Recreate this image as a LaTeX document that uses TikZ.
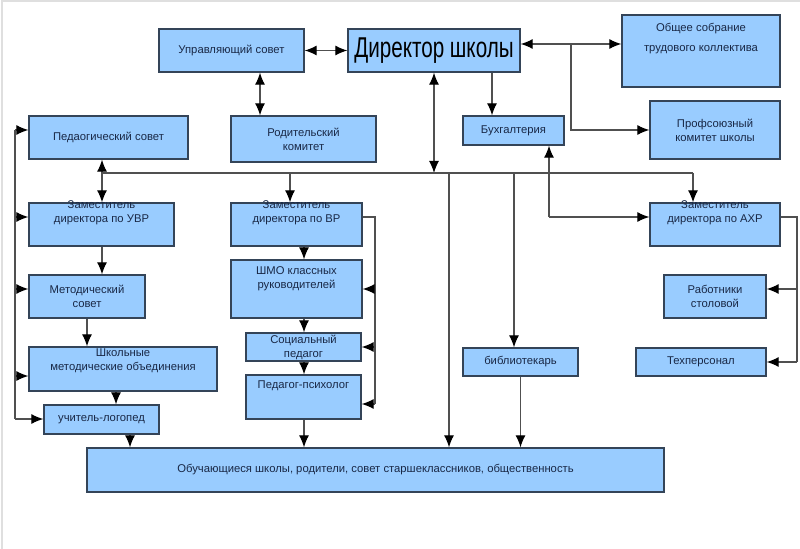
\documentclass[tikz,border=0pt]{standalone}
\usepackage{fontspec}
\setmainfont{Liberation Sans}
\newfontfamily\narrowfont[FakeStretch=0.72]{Liberation Sans}
\usetikzlibrary{calc, arrows.meta}

\definecolor{boxfill}{RGB}{153,204,255}
\definecolor{boxline}{RGB}{52,68,88}
\definecolor{boxtext}{RGB}{25,40,70}
\definecolor{wirecol}{RGB}{80,80,80}

\begin{document}
\begin{tikzpicture}[x=0.75pt, y=-0.75pt,
  box/.style={draw=boxline, line width=1pt, fill=boxfill, text=boxtext,
    align=center, inner sep=1pt, font=\fontsize{8.45}{10.5}\selectfont},
  txt/.style={text=boxtext, align=center, inner sep=0pt,
    font=\fontsize{8.45}{10.5}\selectfont},
  sz/.style 2 args={minimum width=#1*0.75pt, minimum height=#2*0.75pt},
  wire/.style={draw=wirecol, line width=0.9pt},
  arr/.style={wire, -{Latex[length=9pt, width=7.5pt, color=black]}},
  darr/.style={wire, {Latex[length=9pt, width=7.5pt, color=black]}-{Latex[length=9pt, width=7.5pt, color=black]}}]
  \useasboundingbox (0,0) rectangle (800,549);
  \draw[gray!25, line width=1.5pt] (2,549) -- (2,1.5) -- (800,1.5);

  % top row
  \node[box, sz={145}{43}] (upr) at (231.5,50.5) {Управляющий совет};
  \node[box, sz={172}{43}, text=black,
    font=\narrowfont\fontsize{21.5}{24}\selectfont] (dir) at (434,50.5) {Директор школы};
  \node[box, sz={158}{72}] (sobr) at (701,51) {};
  \node[txt] (sobr-t) at (701,39) {Общее собрание\\[4.5pt]трудового коллектива};
  \node[box, sz={130}{58}] (prof) at (715,130) {Профсоюзный\\комитет школы};
  \node[box, sz={101}{29}] (buh) at (513.5,130.5) {Бухгалтерия};
  \node[box, sz={159}{43}] (ped) at (108.5,137.5) {Педаогический совет};
  \node[box, sz={145}{46}] (rod) at (303.5,139) {Родительский\\комитет};

  % deputies
  \node[box, sz={145}{43}] (uvr) at (101.5,224.5) {};
  \node[txt] (uvr-t) at (101.5,213) {Заместитель\\директора по УВР};
  \node[box, sz={131}{43}] (vr) at (296.5,224.5) {};
  \node[txt] (vr-t) at (296.5,213) {Заместитель\\директора по ВР};
  \node[box, sz={130}{43}] (ahr) at (715,224.5) {};
  \node[txt] (ahr-t) at (715,213) {Заместитель\\директора по АХР};

  % lower boxes
  \node[box, sz={116}{43}] (met) at (87,296.5) {Методический\\совет};
  \node[box, sz={188}{44}] (shk) at (123,369) {};
  \node[txt] (shk-t) at (123,360.5) {Школьные\\методические объединения};
  \node[box, sz={115}{29}] (log) at (101.5,419.5) {учитель-логопед};
  \node[box, sz={131}{58}] (shmo) at (296.5,289) {};
  \node[txt] (shmo-t) at (296.5,278.5) {ШМО классных\\руководителей};
  \node[box, sz={115}{28}] (soc) at (303.5,347) {Социальный\\педагог};
  \node[box, sz={115}{44}] (psy) at (303.5,397) {};
  \node[txt] (psy-t) at (303.5,386) {Педагог-психолог};
  \node[box, sz={115}{28}] (bib) at (520.5,362) {библиотекарь};
  \node[box, sz={102}{43}] (rab) at (715,296.5) {Работники\\столовой};
  \node[box, sz={130}{28}] (teh) at (701,362) {Техперсонал};
  \node[box, sz={577}{44}] (obu) at (375.5,470)
    {Обучающиеся школы, родители, совет старшеклассников, общественность};

  \coordinate (J) at (571,44);
  \coordinate (B1) at (102,173);
  \coordinate (B2) at (290,173);
  \coordinate (B3) at (434,173);
  \coordinate (B4) at (449,173);
  \coordinate (B5) at (514,173);
  \coordinate (B6) at (549,173);
  \coordinate (B7) at (693,173);
  \coordinate (A) at (549,217);
  \coordinate (C1) at (116,0);
  \coordinate (C2) at (130,0);
  \coordinate (C3) at (304,0);
  \coordinate (C4) at (492,0);
  \coordinate (C5) at (260,0);
  \coordinate (L1) at (15,130);
  \coordinate (L2) at (15,217);
  \coordinate (L3) at (15,289);
  \coordinate (L4) at (15,376);
  \coordinate (L5) at (15,419);
  \coordinate (V1) at (375,217);
  \coordinate (V2) at (375,289);
  \coordinate (V3) at (375,347);
  \coordinate (V4) at (375,404);
  \coordinate (R1) at (797,217);
  \coordinate (R2) at (797,289);
  \coordinate (R3) at (797,362);

  % director links
  \draw[darr] (upr) -- (dir);
  \draw[darr] (upr.south -| C5) -- (rod.north -| C5);
  \draw[darr] (dir.east |- J) -- (sobr.west |- J);
  \draw[arr] (J) |- (prof.west);
  \draw[arr] (dir.south -| C4) -- (buh.north -| C4);
  \draw[darr] (dir.south) -- (B3);

  % bus
  \draw[wire] (B1) -- (B7);
  \draw[arr] (B1) -- (ped.south -| B1);
  \draw[arr] (B1) -- (uvr.north -| B1);
  \draw[arr] (B2) -- (vr.north -| B2);
  \draw[arr] (B4) -- (obu.north -| B4);
  \draw[arr] (B5) -- (bib.north -| B5);
  \draw[arr] (A) -- (buh.south -| A);
  \draw[arr] (A) -- (ahr.west |- A);
  \draw[arr] (B7) -- (ahr.north -| B7);

  % left column
  \draw[arr] (uvr.south -| B1) -- (met.north -| B1);
  \draw[arr] (met.south) -- (met.south |- shk.north);
  \draw[arr] (shk.south -| C1) -- (log.north -| C1);
  \draw[arr] (log.south -| C2) -- (obu.north -| C2);
  \draw[wire] (L1) -- (L5);
  \draw[arr] (L1) -- (ped.west |- L1);
  \draw[arr] (L2) -- (uvr.west |- L2);
  \draw[arr] (L3) -- (met.west |- L3);
  \draw[arr] (L4) -- (shk.west |- L4);
  \draw[arr] (L5) -- (log.west |- L5);

  % middle column
  \draw[arr] (vr.south -| C3) -- (shmo.north -| C3);
  \draw[arr] (shmo.south -| C3) -- (soc.north -| C3);
  \draw[arr] (soc.south -| C3) -- (psy.north -| C3);
  \draw[arr] (psy.south -| C3) -- (obu.north -| C3);
  \draw[wire] (vr.east |- V1) -- (V1) -- (V4);
  \draw[arr] (V2) -- (shmo.east |- V2);
  \draw[arr] (V3) -- (soc.east |- V3);
  \draw[arr] (V4) -- (psy.east |- V4);
  \draw[arr] (bib.south) -- (obu.north -| bib.south);

  % right column
  \draw[wire] (ahr.east |- R1) -- (R1) -- (R3);
  \draw[arr] (R2) -- (rab.east |- R2);
  \draw[arr] (R3) -- (teh.east);
\end{tikzpicture}
\end{document}
